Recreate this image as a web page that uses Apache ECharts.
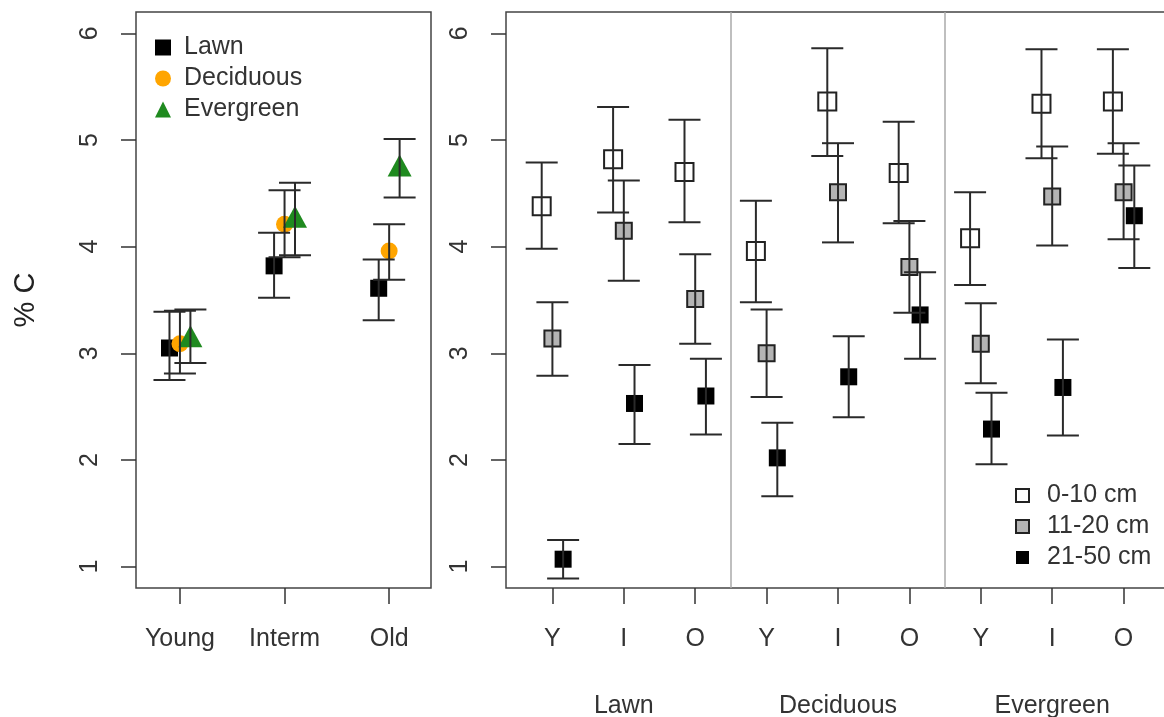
<!DOCTYPE html>
<html>
<head>
<meta charset="utf-8">
<script src="https://cdn.jsdelivr.net/npm/echarts@6/dist/echarts.min.js"></script>
<style>
  html, body { margin: 0; padding: 0; background: #fff; }
  #chart { width: 1164px; height: 717px; }
</style>
</head>
<body>
<div id="chart"></div>
<script>
// left panel: stand age x land use
var ageGroups = ['Young', 'Interm', 'Old'];
var lawnMean = [3.05, 3.82, 3.61];
var lawnLow = [2.75, 3.52, 3.31];
var lawnHigh = [3.39, 4.13, 3.88];
var decidMean = [3.09, 4.21, 3.96];
var decidLow = [2.81, 3.90, 3.69];
var decidHigh = [3.40, 4.53, 4.21];
var everMean = [3.16, 4.28, 4.76];
var everLow = [2.91, 3.92, 4.46];
var everHigh = [3.41, 4.60, 5.01];

// right panel: land use / age x depth
var ageCodes = ['Y', 'I', 'O', 'Y', 'I', 'O', 'Y', 'I', 'O'];
var landUse = ['Lawn', 'Deciduous', 'Evergreen'];
var d1Mean = [4.38, 4.82, 4.70, 3.96, 5.36, 4.69, 4.08, 5.34, 5.36];
var d1Low = [3.98, 4.32, 4.23, 3.48, 4.85, 4.22, 3.64, 4.83, 4.87];
var d1High = [4.79, 5.31, 5.19, 4.43, 5.86, 5.17, 4.51, 5.85, 5.85];
var d2Mean = [3.14, 4.15, 3.51, 3.00, 4.51, 3.81, 3.09, 4.47, 4.51];
var d2Low = [2.79, 3.68, 3.09, 2.59, 4.04, 3.38, 2.72, 4.01, 4.07];
var d2High = [3.48, 4.62, 3.93, 3.41, 4.97, 4.24, 3.47, 4.94, 4.97];
var d3Mean = [1.07, 2.53, 2.60, 2.02, 2.78, 3.36, 2.29, 2.68, 4.29];
var d3Low = [0.89, 2.15, 2.24, 1.66, 2.40, 2.95, 1.96, 2.23, 3.80];
var d3High = [1.25, 2.89, 2.95, 2.35, 3.16, 3.76, 2.63, 3.13, 4.76];

var yTicks = [1, 2, 3, 4, 5, 6];

var txt = '#333';
var font = '"Liberation Sans", Arial, sans-serif';

function points(mean, shift) {
  return mean.map(function (v, i) { return [i + 1 + shift, v]; });
}
function bars(low, high, shift) {
  return low.map(function (v, i) { return [i + 1 + shift, v, high[i]]; });
}
function errRender(params, api) {
  var x = api.value(0);
  var lo = api.coord([x, api.value(1)]);
  var hi = api.coord([x, api.value(2)]);
  var w = 16;
  var st = { stroke: '#2a2a2a', lineWidth: 2 };
  return {
    type: 'group',
    children: [
      { type: 'line', shape: { x1: lo[0], y1: lo[1], x2: hi[0], y2: hi[1] }, style: st },
      { type: 'line', shape: { x1: lo[0] - w, y1: lo[1], x2: lo[0] + w, y2: lo[1] }, style: st },
      { type: 'line', shape: { x1: hi[0] - w, y1: hi[1], x2: hi[0] + w, y2: hi[1] }, style: st }
    ]
  };
}
function errSeries(name, idx, low, high, shift) {
  return {
    name: name, type: 'custom', xAxisIndex: idx, yAxisIndex: idx, z: 5,
    renderItem: errRender, encode: { x: 0, y: [1, 2] },
    data: bars(low, high, shift), silent: true
  };
}

function yAxisFor(idx, withName) {
  return {
    gridIndex: idx, type: 'value', min: 0.8, max: 6.2,
    name: withName ? '% C' : '', nameLocation: 'middle', nameGap: 96, nameRotate: 90,
    nameTextStyle: { fontSize: 29, color: '#222', fontFamily: font },
    axisLine: { show: false },
    splitLine: { show: false },
    axisTick: { customValues: yTicks, length: 15, lineStyle: { color: '#333', width: 1.5 } },
    axisLabel: { customValues: yTicks, rotate: 90, margin: 33, fontSize: 25, color: txt, fontFamily: font }
  };
}

var chart = echarts.init(document.getElementById('chart'));
chart.setOption({
  animation: false,
  backgroundColor: '#fff',
  grid: [
    { left: 136, top: 12, width: 295, height: 576, show: true, borderColor: '#444', borderWidth: 1.5,
      containLabel: false, outerBoundsMode: 'none' },
    { left: 506, top: 12, width: 664, height: 576, show: true, borderColor: '#444', borderWidth: 1.5,
      containLabel: false, outerBoundsMode: 'none' }
  ],
  xAxis: [
    {
      gridIndex: 0, type: 'value', min: 0.58, max: 3.4,
      axisLine: { show: false }, splitLine: { show: false },
      axisTick: { customValues: [1, 2, 3], length: 16, lineStyle: { color: '#333', width: 1.5 } },
      axisLabel: { customValues: [1, 2, 3], margin: 39, fontSize: 25, color: txt, fontFamily: font,
        formatter: function (v) { return ageGroups[Math.round(v) - 1]; } }
    },
    {
      gridIndex: 1, type: 'value', min: 0.35, max: 9.65,
      axisLine: { show: false }, splitLine: { show: false },
      axisTick: { customValues: [1, 2, 3, 4, 5, 6, 7, 8, 9], length: 16, lineStyle: { color: '#333', width: 1.5 } },
      axisLabel: { customValues: [1, 2, 3, 4, 5, 6, 7, 8, 9], margin: 39, fontSize: 25, color: txt, fontFamily: font,
        formatter: function (v) { return ageCodes[Math.round(v) - 1]; } }
    },
    {
      gridIndex: 1, type: 'value', min: 0.35, max: 9.65, position: 'bottom',
      axisLine: { show: false }, splitLine: { show: false }, axisTick: { show: false },
      axisLabel: { customValues: [2, 5, 8], margin: 106, fontSize: 25, color: txt, fontFamily: font,
        formatter: function (v) { return landUse[(Math.round(v) - 2) / 3]; } }
    }
  ],
  yAxis: [yAxisFor(0, true), yAxisFor(1, false)],
  legend: [
    {
      data: [{ name: 'Lawn', icon: 'rect' }, { name: 'Deciduous', icon: 'circle' }, { name: 'Evergreen', icon: 'triangle' }],
      orient: 'vertical', left: 150, top: 30, itemWidth: 16, itemHeight: 16, itemGap: 6,
      selectedMode: false,
      textStyle: { fontSize: 25, color: txt, fontFamily: font, padding: [0, 0, 0, 8] }
    },
    {
      data: ['0-10 cm', '11-20 cm', '21-50 cm'],
      orient: 'vertical', left: 1010, top: 478, itemWidth: 13, itemHeight: 13, itemGap: 6,
      selectedMode: false,
      textStyle: { fontSize: 25, color: txt, fontFamily: font, padding: [0, 0, 0, 13] }
    }
  ],
  series: [
    { name: 'Lawn', type: 'scatter', xAxisIndex: 0, yAxisIndex: 0, symbol: 'rect', symbolSize: 17,
      itemStyle: { color: '#000', opacity: 1 }, data: points(lawnMean, -0.1) },
    { name: 'Deciduous', type: 'scatter', xAxisIndex: 0, yAxisIndex: 0, symbol: 'circle', symbolSize: 17,
      itemStyle: { color: '#FFA500', opacity: 1 }, data: points(decidMean, 0) },
    { name: 'Evergreen', type: 'scatter', xAxisIndex: 0, yAxisIndex: 0, symbol: 'triangle', symbolSize: [24, 22],
      itemStyle: { color: '#1f8a1f', opacity: 1 }, data: points(everMean, 0.1) },
    errSeries('Lawn se', 0, lawnLow, lawnHigh, -0.1),
    errSeries('Deciduous se', 0, decidLow, decidHigh, 0),
    errSeries('Evergreen se', 0, everLow, everHigh, 0.1),

    { name: '0-10 cm', type: 'scatter', xAxisIndex: 1, yAxisIndex: 1, symbol: 'rect', symbolSize: 18,
      itemStyle: { color: '#fff', borderColor: '#222', borderWidth: 2, opacity: 1 }, data: points(d1Mean, -0.15),
      markLine: {
        silent: true, symbol: 'none', label: { show: false },
        lineStyle: { color: '#aaa', width: 1.5, type: 'solid' },
        data: [{ xAxis: 3.5 }, { xAxis: 6.5 }]
      } },
    { name: '11-20 cm', type: 'scatter', xAxisIndex: 1, yAxisIndex: 1, symbol: 'rect', symbolSize: 16,
      itemStyle: { color: '#b4b4b4', borderColor: '#222', borderWidth: 2, opacity: 1 }, data: points(d2Mean, 0) },
    { name: '21-50 cm', type: 'scatter', xAxisIndex: 1, yAxisIndex: 1, symbol: 'rect', symbolSize: 17,
      itemStyle: { color: '#000', opacity: 1 }, data: points(d3Mean, 0.15) },
    errSeries('0-10 se', 1, d1Low, d1High, -0.15),
    errSeries('11-20 se', 1, d2Low, d2High, 0),
    errSeries('21-50 se', 1, d3Low, d3High, 0.15)
  ]
});
</script>
</body>
</html>
